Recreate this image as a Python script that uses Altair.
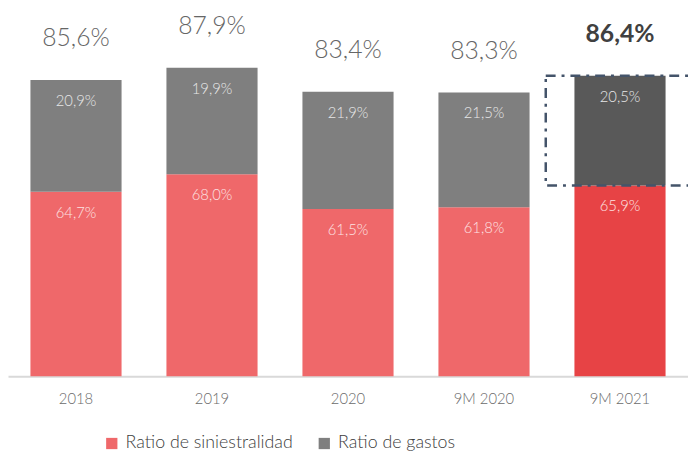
import altair as alt
import pandas as pd

cats = ["2018", "2019", "2020", "9M 2020", "9M 2021"]
siniestralidad = [64.7, 68.0, 61.5, 61.8, 65.9]
gastos = [20.9, 19.9, 21.9, 21.5, 20.5]
totales = [85.6, 87.9, 83.4, 83.3, 86.4]
series = ["Ratio de siniestralidad", "Ratio de gastos"]
highlight = "9M 2021"

def fmt(v):
    return f"{v:.1f}".replace(".", ",") + "%"

rows = []
for c, s, g in zip(cats, siniestralidad, gastos):
    h = c == highlight
    rows.append(dict(cat=c, series=series[0], value=s, order=0,
                     key=series[0] + (" h" if h else ""), top=s, label=fmt(s)))
    rows.append(dict(cat=c, series=series[1], value=g, order=1,
                     key=series[1] + (" h" if h else ""), top=s + g, label=fmt(g)))
bars_df = pd.DataFrame(rows)

tot_df = pd.DataFrame(dict(cat=cats, total=totales, label=[fmt(t) for t in totales],
                           hl=[c == highlight for c in cats]))

box_df = pd.DataFrame(dict(cat=[highlight],
                           y1=[totales[-1]], y2=[siniestralidad[-1]]))

FONT = "Lato"
yscale = alt.Scale(domain=[30.2, 98.6], nice=False, zero=False)
xenc = alt.X("cat:N", sort=cats,
             scale=alt.Scale(paddingInner=0.33, paddingOuter=0.165),
             axis=alt.Axis(title=None, labelAngle=0, ticks=False, domainColor="#d9d9d9",
                           domainWidth=2, labelFontSize=15, labelColor="#6b6b6b",
                           labelPadding=16, labelFont=FONT, labelFontWeight=300))

bars = alt.Chart(bars_df).mark_bar(clip=True).encode(
    x=xenc,
    y=alt.Y("value:Q", stack="zero", scale=yscale, axis=None),
    order=alt.Order("order:Q"),
    color=alt.Color("key:N",
                    scale=alt.Scale(domain=series + [series[0] + " h", series[1] + " h"],
                                    range=["#EF686A", "#7F7F7F", "#E74345", "#595959"]),
                    legend=alt.Legend(values=series, title=None, orient="none",
                                      legendX=96, legendY=429, direction="horizontal",
                                      symbolType="square", symbolSize=130,
                                      symbolOpacity=1, labelFontSize=18,
                                      labelFont=FONT, labelFontWeight=300,
                                      labelColor="#404040", columnPadding=22,
                                      labelOffset=5, labelLimit=0)),
)

inner = alt.Chart(bars_df).mark_text(dy=21, fontSize=15, font=FONT, fontWeight=300).encode(
    x=alt.X("cat:N", sort=cats),
    y=alt.Y("top:Q", scale=yscale),
    text="label:N",
    color=alt.condition(alt.datum.order == 0, alt.value("#fde3e3"), alt.value("#e8e8e8")),
)

tot = alt.Chart(tot_df).transform_filter(~alt.datum.hl).mark_text(
    dy=-42, fontSize=25, font=FONT, fontWeight=300, color="#666666").encode(
    x=alt.X("cat:N", sort=cats),
    y=alt.Y("total:Q", scale=yscale),
    text="label:N",
)

tot_hl = alt.Chart(tot_df).transform_filter(alt.datum.hl).mark_text(
    dy=-42, fontSize=25, font=FONT, fontWeight="bold", color="#404040").encode(
    x=alt.X("cat:N", sort=cats),
    y=alt.Y("total:Q", scale=yscale),
    text="label:N",
)

box = alt.Chart(box_df).mark_bar(width={"band": 1.63}, fill="transparent", stroke="#44546A",
                                 strokeWidth=2.5, strokeDash=[10, 6, 3, 6], clip=True).encode(
    x=alt.X("cat:N", sort=cats),
    y=alt.Y("y1:Q", scale=yscale),
    y2="y2:Q",
)

chart = alt.layer(bars, inner, tot, tot_hl, box).properties(
    width=688, height=370, padding={"left": 0, "top": 0, "right": 0, "bottom": 0}
).configure_view(stroke=None)

chart.save("out.html", embed_options={"renderer": "svg", "actions": False})
